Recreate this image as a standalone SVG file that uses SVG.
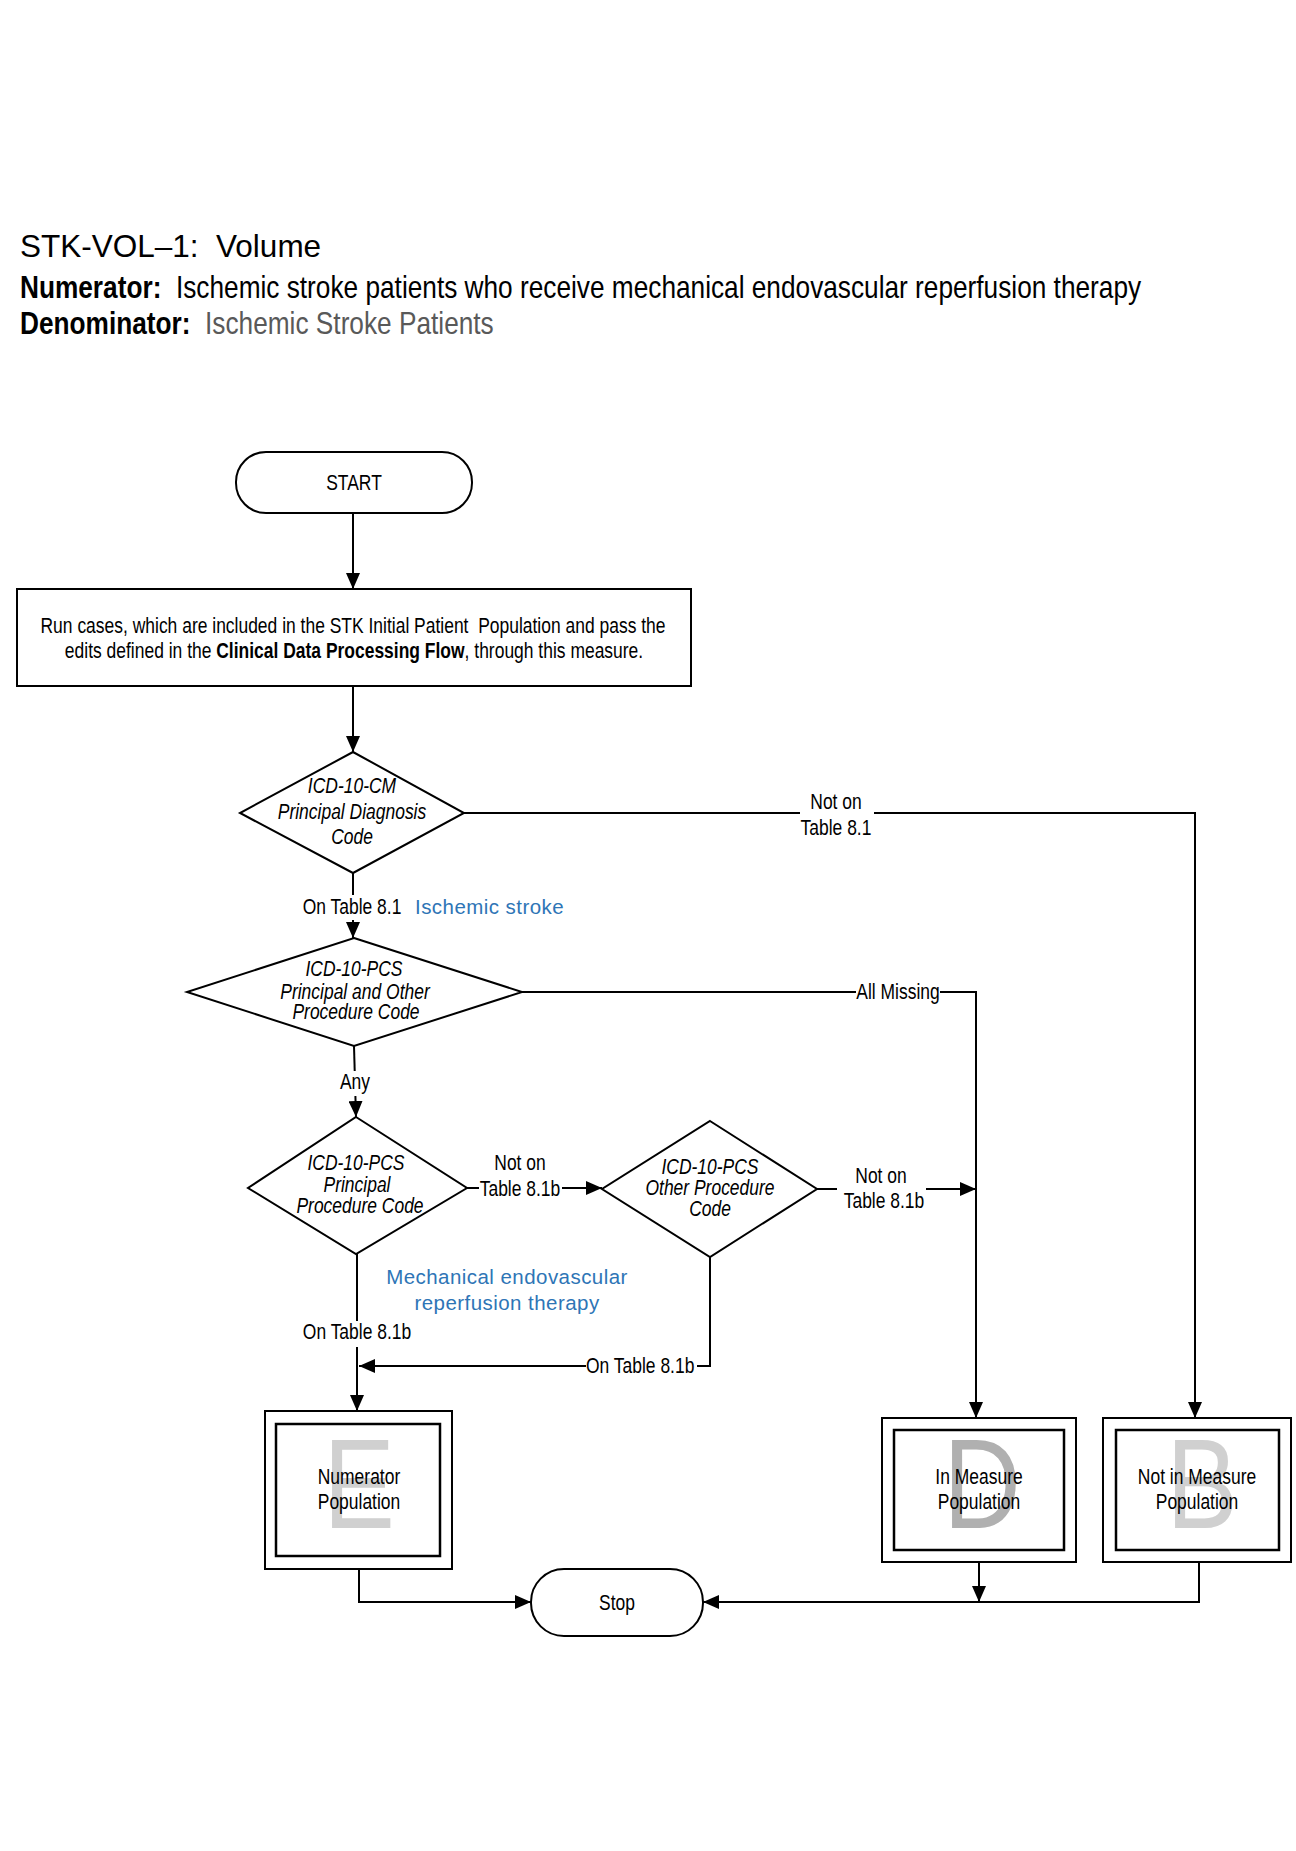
<svg xmlns="http://www.w3.org/2000/svg" width="1296" height="1851" viewBox="0 0 1296 1851">
<style>
text{font-family:"Liberation Sans",Arial,sans-serif;fill:#000}
.lbl{font-size:21.3px}
.it{font-style:italic;font-size:21.3px}
.mid{text-anchor:middle}
.blue{fill:#2e75b6;font-size:20.5px;letter-spacing:0.45px}
.shape{fill:#fff;stroke:#000;stroke-width:2}
.inner{fill:none;stroke:#000;stroke-width:2.5}
.conn{fill:none;stroke:#000;stroke-width:2}
.arr{marker-end:url(#ah)}
.bg{fill:#fff}
.big{font-size:128px;text-anchor:middle}
</style>
<defs>
<marker id="ah" markerUnits="userSpaceOnUse" markerWidth="16" markerHeight="14" refX="16" refY="7" orient="auto">
<path d="M0,0 L16,7 L0,14 z" fill="#000"/>
</marker>
</defs>
<rect width="1296" height="1851" fill="#fff"/>

<g id="title">
<text x="20" y="257" font-size="31.5">STK-VOL–1:&#160; Volume</text>
<text transform="translate(20,298) scale(0.82,1)" font-size="32"><tspan font-weight="bold">Numerator:</tspan>&#160; Ischemic stroke patients who receive mechanical endovascular reperfusion therapy</text>
<text transform="translate(20,334) scale(0.82,1)" font-size="32"><tspan font-weight="bold">Denominator:</tspan>&#160; <tspan fill="#595959">Ischemic Stroke Patients</tspan></text>
</g>

<g id="connectors">
<path class="conn arr" d="M353,513 V589"/>
<path class="conn arr" d="M353,686 V752"/>
<path class="conn arr" d="M464,813 H1195 V1418"/>
<path class="conn arr" d="M353,873 V938"/>
<path class="conn arr" d="M522,992 H976 V1418"/>
<path class="conn arr" d="M354,1046 L356,1117"/>
<path class="conn arr" d="M467,1188 H602"/>
<path class="conn arr" d="M817,1189 H976"/>
<path class="conn arr" d="M357,1254 V1411"/>
<path class="conn arr" d="M710,1257 V1366 H359"/>
<path class="conn arr" d="M359,1569 V1602 H531"/>
<path class="conn arr" d="M979,1562 V1602"/>
<path class="conn arr" d="M1199,1562 V1602 H703"/>
</g>

<g id="labels">
<rect class="bg" x="800" y="790" width="74" height="52"/>
<text class="lbl mid" transform="translate(836,809) scale(0.82,1)">Not on</text>
<text class="lbl mid" transform="translate(836,835) scale(0.82,1)">Table 8.1</text>
<rect class="bg" x="299" y="895" width="106" height="25"/>
<text class="lbl mid" transform="translate(352,914) scale(0.82,1)">On Table 8.1</text>
<text class="blue" x="415" y="914" font-size="20">Ischemic stroke</text>
<rect class="bg" x="856" y="979" width="84" height="25"/>
<text class="lbl mid" transform="translate(898,999) scale(0.82,1)">All Missing</text>
<rect class="bg" x="339" y="1071" width="32" height="25"/>
<text class="lbl mid" transform="translate(355,1089) scale(0.82,1)">Any</text>
<rect class="bg" x="479" y="1152" width="83" height="49"/>
<text class="lbl mid" transform="translate(520,1170) scale(0.82,1)">Not on</text>
<text class="lbl mid" transform="translate(520,1196) scale(0.82,1)">Table 8.1b</text>
<rect class="bg" x="837" y="1164" width="89" height="49"/>
<text class="lbl mid" transform="translate(881,1183) scale(0.82,1)">Not on</text>
<text class="lbl mid" transform="translate(884,1208) scale(0.82,1)">Table 8.1b</text>
<text class="blue mid" x="507" y="1284">Mechanical endovascular</text>
<text class="blue mid" x="507" y="1310">reperfusion therapy</text>
<rect class="bg" x="301" y="1321" width="112" height="26"/>
<text class="lbl mid" transform="translate(357,1339) scale(0.82,1)">On Table 8.1b</text>
<rect class="bg" x="586" y="1354" width="111" height="25"/>
<text class="lbl" transform="translate(586,1373) scale(0.82,1)">On Table 8.1b</text>
</g>

<g id="start">
<rect class="shape" x="236" y="452" width="236" height="61" rx="30" ry="30"/>
<text class="lbl mid" transform="translate(354,490) scale(0.82,1)">START</text>
</g>

<g id="process">
<rect class="shape" x="17" y="589" width="674" height="97"/>
<text class="lbl mid" transform="translate(353,633) scale(0.82,1)">Run cases, which are included in the STK Initial Patient&#160; Population and pass the</text>
<text class="lbl mid" transform="translate(354,658) scale(0.82,1)">edits defined in the <tspan font-weight="bold">Clinical Data Processing Flow</tspan>, through this measure.</text>
</g>

<g id="d1">
<polygon class="shape" points="353,752 464,813 353,873 240,813"/>
<text class="it mid" transform="translate(352,793) scale(0.82,1)">ICD-10-CM</text>
<text class="it mid" transform="translate(352,819) scale(0.82,1)">Principal Diagnosis</text>
<text class="it mid" transform="translate(352,844) scale(0.82,1)">Code</text>
</g>

<g id="d2">
<polygon class="shape" points="354,938 522,992 354,1046 187,992"/>
<text class="it mid" transform="translate(354,976) scale(0.82,1)">ICD-10-PCS</text>
<text class="it mid" transform="translate(355,999) scale(0.82,1)">Principal and Other</text>
<text class="it mid" transform="translate(356,1019) scale(0.82,1)">Procedure Code</text>
</g>

<g id="d3">
<polygon class="shape" points="356,1117 467,1188 356,1254 248,1188"/>
<text class="it mid" transform="translate(356,1170) scale(0.82,1)">ICD-10-PCS</text>
<text class="it mid" transform="translate(357,1192) scale(0.82,1)">Principal</text>
<text class="it mid" transform="translate(360,1213) scale(0.82,1)">Procedure Code</text>
</g>

<g id="d4">
<polygon class="shape" points="710,1121 817,1189 710,1257 602,1189"/>
<text class="it mid" transform="translate(710,1174) scale(0.82,1)">ICD-10-PCS</text>
<text class="it mid" transform="translate(710,1195) scale(0.82,1)">Other Procedure</text>
<text class="it mid" transform="translate(710,1216) scale(0.82,1)">Code</text>
</g>

<g id="numerator">
<rect class="shape" x="265" y="1411" width="187" height="158"/>
<rect class="inner" x="276" y="1424" width="164" height="132"/>
<text class="big" transform="translate(359,1528) scale(0.84,1)" style="fill:#d0d0d0">E</text>
<text class="lbl mid" transform="translate(359,1484) scale(0.82,1)">Numerator</text>
<text class="lbl mid" transform="translate(359,1509) scale(0.82,1)">Population</text>
</g>

<g id="inmeasure">
<rect class="shape" x="882" y="1418" width="194" height="144"/>
<rect class="inner" x="894" y="1430" width="170" height="120"/>
<text class="big" transform="translate(982,1528) scale(0.84,1)" style="fill:#b0b0b0">D</text>
<text class="lbl mid" transform="translate(979,1484) scale(0.82,1)">In Measure</text>
<text class="lbl mid" transform="translate(979,1509) scale(0.82,1)">Population</text>
</g>

<g id="notinmeasure">
<rect class="shape" x="1103" y="1418" width="188" height="144"/>
<rect class="inner" x="1116" y="1430" width="163" height="120"/>
<text class="big" transform="translate(1202,1528) scale(0.84,1)" style="fill:#d0d0d0">B</text>
<text class="lbl mid" transform="translate(1197,1484) scale(0.82,1)">Not in Measure</text>
<text class="lbl mid" transform="translate(1197,1509) scale(0.82,1)">Population</text>
</g>

<g id="stop">
<rect class="shape" x="531" y="1569" width="172" height="67" rx="33" ry="33"/>
<text class="lbl mid" transform="translate(617,1610) scale(0.82,1)">Stop</text>
</g>
</svg>
